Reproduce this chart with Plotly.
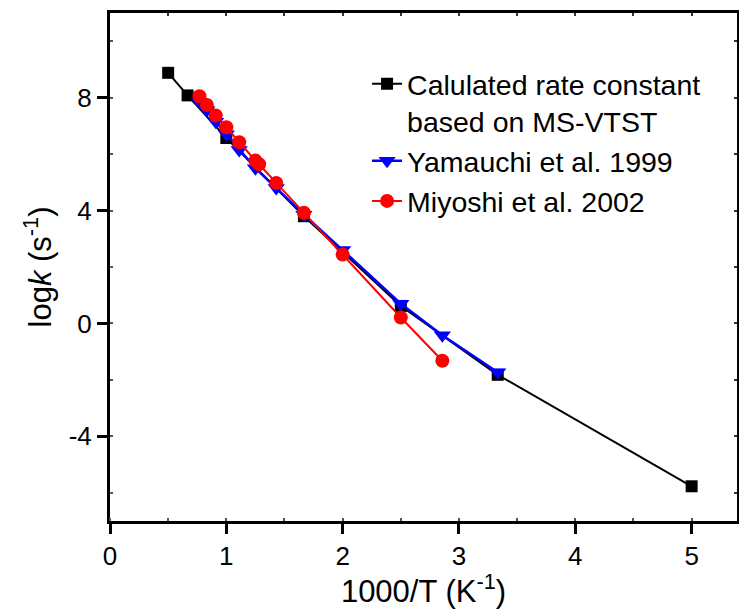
import plotly.graph_objects as go

# Data
calc_x = [0.5, 0.667, 1.0, 1.667, 2.5, 3.333, 5.0]
calc_y = [8.88, 8.08, 6.57, 3.80, 0.62, -1.82, -5.77]

yam_x = [0.769, 0.833, 0.909, 1.0, 1.111, 1.25, 1.429, 1.667, 2.0, 2.5, 2.857, 3.333]
yam_y = [7.85, 7.55, 7.15, 6.70, 6.15, 5.50, 4.80, 3.85, 2.60, 0.70, -0.42, -1.73]

miy_x = [0.769, 0.833, 0.909, 1.0, 1.111, 1.25, 1.282, 1.429, 1.667, 2.0, 2.5, 2.857]
miy_y = [8.05, 7.74, 7.37, 6.95, 6.42, 5.77, 5.64, 4.98, 3.92, 2.44, 0.21, -1.32]

x_ticks = [0, 1, 2, 3, 4, 5]
y_ticks = [-4, 0, 4, 8]
y_ticktext = ["-4", "0", "4", "8"]

FONT = "Arial, Liberation Sans, sans-serif"

fig = go.Figure()
fig.add_trace(go.Scatter(
    x=calc_x, y=calc_y, mode="lines+markers",
    name="Calulated rate constant<br>based on MS-VTST",
    line=dict(color="black", width=2),
    marker=dict(symbol="square", size=12, color="black"),
))
fig.add_trace(go.Scatter(
    x=yam_x, y=yam_y, mode="lines+markers",
    name="Yamauchi et al. 1999",
    line=dict(color="#0000ff", width=2.5),
    marker=dict(symbol="triangle-down", size=15, color="#0000ff"),
))
fig.add_trace(go.Scatter(
    x=miy_x, y=miy_y, mode="lines+markers",
    name="Miyoshi et al. 2002",
    line=dict(color="#ff0000", width=2),
    marker=dict(symbol="circle", size=14, color="#ff0000"),
))
# invisible trace to activate top/right decorative axes
fig.add_trace(go.Scatter(x=[None], y=[None], xaxis="x2", yaxis="y2",
                         showlegend=False, hoverinfo="skip"))

XR = [0, 5.39]
YR = [-7, 11]

fig.update_layout(
    width=739, height=609,
    margin=dict(l=110, r=2, t=13, b=88),
    paper_bgcolor="white", plot_bgcolor="white",
    font=dict(family=FONT, color="black"),
    showlegend=True,
    legend=dict(x=0.41, y=0.91, xanchor="left", yanchor="top",
                font=dict(size=28.5, family=FONT), bgcolor="rgba(0,0,0,0)",
                valign="top", tracegroupgap=0),
    xaxis=dict(range=XR, tickvals=x_ticks, showgrid=False, zeroline=False,
               showline=True, linecolor="black", linewidth=3,
               ticks="outside", ticklen=10, tickwidth=2.5, tickcolor="black",
               minor=dict(dtick=0.5, tick0=0, ticks="inside", ticklen=3,
                          tickwidth=1.5, tickcolor="#555", showgrid=False),
               tickfont=dict(size=26, family=FONT),
               title=dict(text="1000/T (K<sup>-1</sup>)", font=dict(size=31, family=FONT),
                          standoff=3)),
    yaxis=dict(range=YR, tickvals=y_ticks, ticktext=y_ticktext, showgrid=False, zeroline=False,
               showline=True, linecolor="black", linewidth=3,
               ticks="outside", ticklen=10, tickwidth=2.5, tickcolor="black",
               minor=dict(dtick=2, tick0=0, ticks="inside", ticklen=3,
                          tickwidth=1.5, tickcolor="#555", showgrid=False),
               tickfont=dict(size=26, family=FONT),
               title=dict(text="log<i>k</i> (s<sup>-1</sup>)", font=dict(size=31, family=FONT),
                          standoff=8)),
    xaxis2=dict(range=XR, overlaying="x", side="top", showgrid=False, zeroline=False,
                showline=True, linecolor="black", linewidth=3,
                tickvals=[0.5 * i for i in range(11)], ticks="inside", ticklen=3,
                tickwidth=1.5, tickcolor="#333", showticklabels=False),
    yaxis2=dict(range=YR, overlaying="y", side="right", showgrid=False, zeroline=False,
                showline=True, linecolor="black", linewidth=3,
                tickvals=[-6, -4, -2, 0, 2, 4, 6, 8, 10], ticks="inside", ticklen=3,
                tickwidth=1.5, tickcolor="#333", showticklabels=False),
)

fig.write_html("out.html")
